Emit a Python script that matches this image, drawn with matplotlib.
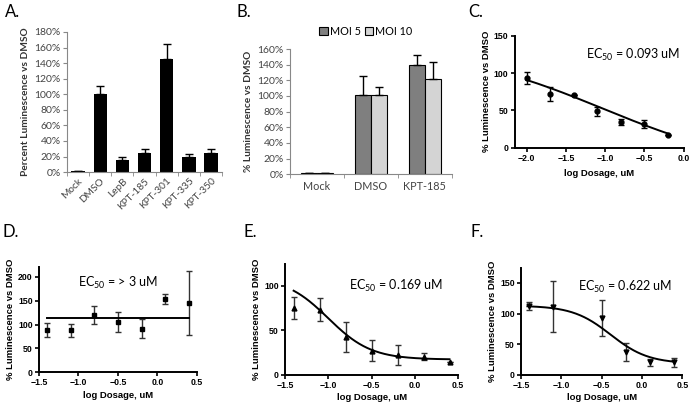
import numpy as np
import matplotlib
matplotlib.use("Agg")
import matplotlib.pyplot as plt
from matplotlib.ticker import PercentFormatter

plt.rcParams['mathtext.fontset'] = 'custom'
plt.rcParams['mathtext.rm'] = 'Lato'
plt.rcParams['mathtext.it'] = 'Lato'

# ---- data ----
# A
a_labels = ['Mock', 'DMSO', 'LepB', 'KPT-185', 'KPT-301', 'KPT-335', 'KPT-350']
a_vals = [1, 100, 15, 25, 145, 19, 25]
a_err = [0, 11, 5, 5, 20, 4, 5]
# B
b_labels = ['Mock', 'DMSO', 'KPT-185']
b_moi5 = [2, 101, 139]
b_moi5_err = [0, 25, 13]
b_moi10 = [2, 101, 122]
b_moi10_err = [0, 11, 22]
# C
c_x = [-2.0, -1.7, -1.4, -1.1, -0.8, -0.5, -0.2]
c_y = [93, 72, 71, 49, 35, 32, 17]
c_err = [8, 9, 0, 6, 4, 5, 0]
c_fit = (135, -30, -1.03, 0.45)  # top, bottom, logEC50, hill
# D
d_x = [-1.4, -1.1, -0.8, -0.5, -0.2, 0.1, 0.4]
d_y = [88, 88, 120, 105, 91, 154, 145]
d_err = [15, 14, 19, 21, 20, 10, 68]
d_line = 113
# E
e_x = [-1.4, -1.1, -0.8, -0.5, -0.2, 0.1, 0.4]
e_y = [75, 73, 42, 27, 22, 20, 14]
e_err = [12, 13, 17, 12, 11, 4, 0]
e_fit = (110, 17, -1.0, 1.75)
# F
f_x = [-1.4, -1.1, -0.5, -0.2, 0.1, 0.4]
f_y = [112, 111, 93, 37, 20, 20]
f_err = [7, 42, 29, 14, 6, 7]
f_fit = (113, 18, -0.39, 1.85)

EXCEL_FONT = 'Lato'
GP_FONT = 'Liberation Sans'

fig = plt.figure(figsize=(6.9, 4.05), dpi=100)


def excel_axes(ax):
    for s in ['top', 'right']:
        ax.spines[s].set_visible(False)
    for s in ['left', 'bottom']:
        ax.spines[s].set_color('#888888')
        ax.spines[s].set_linewidth(0.8)
    ax.tick_params(axis='y', direction='out', length=3, color='#888888',
                   labelsize=7.5, labelcolor='#444444', pad=1.5)
    ax.yaxis.set_major_formatter(PercentFormatter(decimals=0))
    for t in ax.get_yticklabels():
        t.set_fontfamily(EXCEL_FONT)


def gp_axes(ax, xpad=4):
    for s in ['top', 'right']:
        ax.spines[s].set_visible(False)
    for s in ['left', 'bottom']:
        ax.spines[s].set_linewidth(1.4)
    ax.tick_params(direction='out', length=3, width=1.2, labelsize=6.3, pad=1.5)
    for t in ax.get_xticklabels() + ax.get_yticklabels():
        t.set_fontfamily(GP_FONT)
        t.set_fontweight('bold')
    ax.set_xlabel('log Dosage, uM', fontsize=6.8, fontweight='bold',
                  fontfamily=GP_FONT, labelpad=xpad)
    ax.set_ylabel('% Luminescence vs DMSO', fontsize=6.8, fontweight='bold',
                  fontfamily=GP_FONT, labelpad=2)


def hill(x, top, bottom, logec, h):
    return bottom + (top - bottom) / (1 + 10 ** ((x - logec) * h))


# ---- A ----
axA = fig.add_axes([0.097, 0.575, 0.225, 0.346])
xa = np.arange(len(a_labels))
axA.bar(xa, a_vals, width=0.6, color='black')
axA.errorbar(xa, a_vals, yerr=[np.zeros(len(a_err)), a_err], fmt='none',
             ecolor='black', elinewidth=1, capsize=3, capthick=1)
axA.set_xlim(-0.5, len(a_labels) - 0.5)
axA.set_ylim(0, 180)
axA.set_yticks(range(0, 181, 20))
excel_axes(axA)
axA.set_xticks(xa)
axA.set_xticklabels(a_labels, rotation=45, ha='right', rotation_mode='anchor',
                    fontsize=7.3, fontfamily=EXCEL_FONT, color='#444444')
axA.tick_params(axis='x', length=0, pad=3)
axA.set_xticks(np.arange(len(a_labels) + 1) - 0.5, minor=True)
axA.tick_params(axis='x', which='minor', length=3, color='#888888')
axA.set_ylabel('Percent Luminescence vs DMSO', fontsize=7.3, fontweight='bold',
               fontfamily=EXCEL_FONT, color='#333333', labelpad=3)

# ---- B ----
axB = fig.add_axes([0.420, 0.570, 0.235, 0.309])
xb = np.arange(len(b_labels))
w = 0.3
axB.bar(xb - w / 2, b_moi5, width=w, color='#7f7f7f', edgecolor='black',
        linewidth=0.8, label='MOI 5')
axB.bar(xb + w / 2, b_moi10, width=w, color='#d4d4d4', edgecolor='black',
        linewidth=0.8, label='MOI 10')
axB.errorbar(xb - w / 2, b_moi5, yerr=[np.zeros(3), b_moi5_err], fmt='none',
             ecolor='black', elinewidth=1, capsize=3, capthick=1)
axB.errorbar(xb + w / 2, b_moi10, yerr=[np.zeros(3), b_moi10_err], fmt='none',
             ecolor='black', elinewidth=1, capsize=3, capthick=1)
axB.set_xlim(-0.5, len(b_labels) - 0.5)
axB.set_ylim(0, 160)
axB.set_yticks(range(0, 161, 20))
excel_axes(axB)
axB.set_xticks(xb)
axB.set_xticklabels(b_labels, fontsize=7.8, fontfamily=EXCEL_FONT, color='#444444')
axB.tick_params(axis='x', length=0, pad=5)
axB.set_xticks(np.arange(len(b_labels) + 1) - 0.5, minor=True)
axB.tick_params(axis='x', which='minor', length=3, color='#888888')
axB.set_ylabel('% Luminescence vs DMSO', fontsize=7.3, fontweight='bold',
               fontfamily=EXCEL_FONT, color='#333333', labelpad=3)
axB.legend(loc='lower center', bbox_to_anchor=(0.47, 1.02), ncol=2,
           frameon=False, handlelength=0.8, handleheight=0.8,
           handletextpad=0.2, columnspacing=0.3,
           prop={'family': EXCEL_FONT, 'size': 7.8})

# ---- C ----
axC = fig.add_axes([0.746, 0.635, 0.245, 0.277])
axC.errorbar(c_x, c_y, yerr=c_err, fmt='o', color='black', markersize=3.5,
             elinewidth=1, capsize=2.5, capthick=1)
xc = np.linspace(c_x[0], c_x[-1], 200)
axC.plot(xc, hill(xc, *c_fit), color='black', lw=1.4)
axC.set_xlim(-2.15, 0.0)
axC.set_ylim(0, 150)
axC.set_xticks([-2.0, -1.5, -1.0, -0.5, 0.0])
axC.set_yticks([0, 50, 100, 150])
gp_axes(axC)
axC.text(-1.25, 124, 'EC$_{50}$ = 0.093 uM', fontsize=9,
         fontfamily=EXCEL_FONT, va='center', ha='left')

# ---- D ----
axD = fig.add_axes([0.0565, 0.081, 0.229, 0.259])
axD.errorbar(d_x, d_y, yerr=d_err, fmt='s', color='black', markersize=3.5,
             elinewidth=1, capsize=2.5, capthick=1, ecolor='#333333')
axD.plot([d_x[0], d_x[-1]], [d_line, d_line], color='black', lw=1.4)
axD.set_xlim(-1.5, 0.5)
axD.set_ylim(0, 220)
axD.set_xticks([-1.5, -1.0, -0.5, 0.0, 0.5])
axD.set_yticks([0, 50, 100, 150, 200])
gp_axes(axD, xpad=2.5)
axD.text(-1.0, 187, 'EC$_{50}$ = > 3 uM', fontsize=9,
         fontfamily=EXCEL_FONT, va='center', ha='left')

# ---- E ----
axE = fig.add_axes([0.413, 0.075, 0.251, 0.274])
axE.errorbar(e_x, e_y, yerr=e_err, fmt='^', color='black', markersize=3.5,
             elinewidth=1, capsize=2.5, capthick=1, ecolor='#333333')
xe = np.linspace(e_x[0], e_x[-1], 200)
axE.plot(xe, hill(xe, *e_fit), color='black', lw=1.4)
axE.set_xlim(-1.5, 0.5)
axE.set_ylim(0, 125)
axE.set_xticks([-1.5, -1.0, -0.5, 0.0, 0.5])
axE.set_yticks([0, 50, 100])
gp_axes(axE, xpad=2.5)
axE.text(-0.76, 100, 'EC$_{50}$ = 0.169 uM', fontsize=9,
         fontfamily=EXCEL_FONT, va='center', ha='left')

# ---- F ----
axF = fig.add_axes([0.755, 0.075, 0.234, 0.264])
axF.errorbar(f_x, f_y, yerr=f_err, fmt='v', color='black', markersize=3.5,
             elinewidth=1, capsize=2.5, capthick=1, ecolor='#333333')
xf = np.linspace(-1.42, 0.4, 200)
axF.plot(xf, hill(xf, *f_fit), color='black', lw=1.4)
axF.set_xlim(-1.5, 0.5)
axF.set_ylim(0, 175)
axF.set_xticks([-1.5, -1.0, -0.5, 0.0, 0.5])
axF.set_yticks([0, 50, 100, 150])
gp_axes(axF, xpad=2.5)
axF.text(-0.79, 143, 'EC$_{50}$ = 0.622 uM', fontsize=9,
         fontfamily=EXCEL_FONT, va='center', ha='left')

# ---- panel letters ----
for lbl, x, y in [('A.', 5, 12), ('B.', 237, 12), ('C.', 468, 12),
                  ('D.', 3, 232), ('E.', 243, 232), ('F.', 470, 232)]:
    fig.text(x / 690, 1 - y / 405, lbl, fontsize=12, fontfamily=EXCEL_FONT,
             va='center', ha='left')

fig.savefig('out.png', dpi=100)
